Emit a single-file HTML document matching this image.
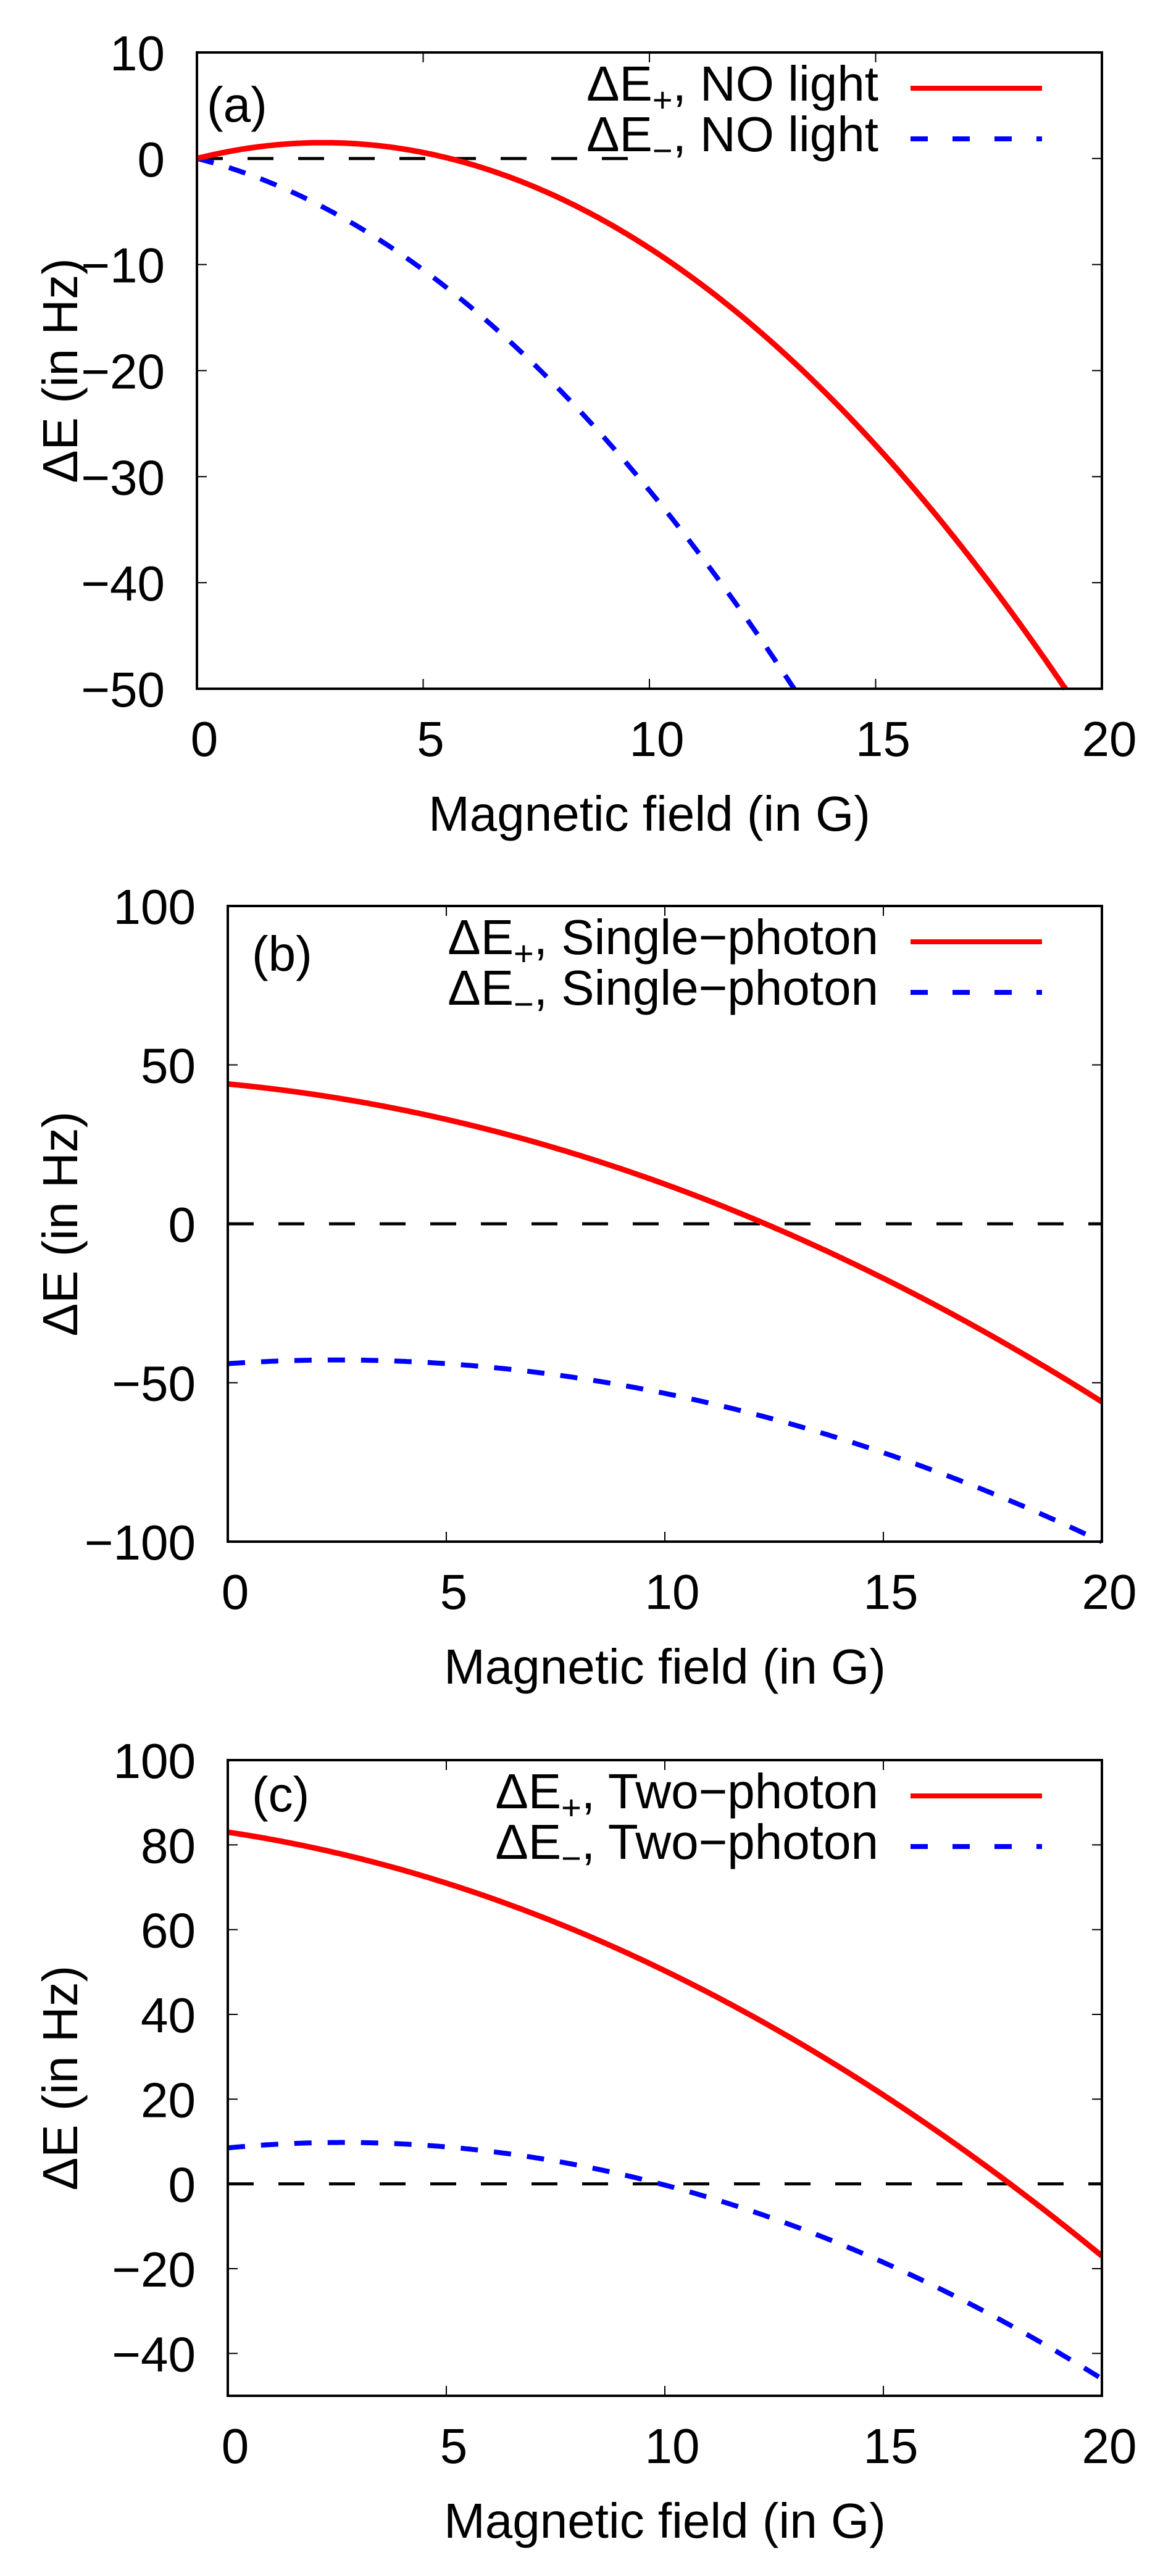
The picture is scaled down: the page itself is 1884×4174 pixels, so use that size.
<!DOCTYPE html>
<html><head><meta charset="utf-8"><style>
html,body{margin:0;padding:0;background:#fff;}
svg{display:block;}
text{font-family:"Liberation Sans",Arial,sans-serif;fill:#000;}
</style></head><body>
<svg id="s" xmlns="http://www.w3.org/2000/svg" width="1884" height="4174" viewBox="0 0 1884 4174"></svg>
<script>
var NS="http://www.w3.org/2000/svg",S=document.getElementById('s');
function el(t,a,txt){var e=document.createElementNS(NS,t);for(var k in a)e.setAttribute(k,a[k]);if(txt!==undefined)e.textContent=txt;S.appendChild(e);return e;}
function txt(x,y,s,anchor,size){return el('text',{x:x,y:y,'text-anchor':anchor||'middle','font-size':size||80},s);}
var panels=[
 {L:319,R:1785,T:85,B:1116,ymin:-50,ymax:10,ystep:10,lab:'(a)',labx:335,laby:197,zeroEnd:9.6,leg:'NO light',
  red:function(x){return 1.07*x-0.1915*x*x;},blue:function(x){return -1.07*x-0.206*x*x;}},
 {L:369,R:1785,T:1468,B:2498,ymin:-100,ymax:100,ystep:50,lab:'(b)',labx:408,laby:1573,zeroEnd:20,leg:'Single\u2212photon',
  red:function(x){return 44-1.304*x-0.1848*x*x;},blue:function(x){return -44+0.933*x-0.1867*x*x;}},
 {L:369,R:1785,T:2852,B:3882,ymin:-50,ymax:100,ystep:20,ystart:-40,lab:'(c)',labx:408,laby:2935,zeroEnd:20,leg:'Two\u2212photon',
  red:function(x){return 83-1.54*x-0.173*x*x;},blue:function(x){return 8.5+0.971*x-0.1848*x*x;}}
];
panels.forEach(function(p){
 var sx=function(x){return p.L+(p.R-p.L)*x/20;};
 var sy=function(y){return p.B-(p.B-p.T)*(y-p.ymin)/(p.ymax-p.ymin);};
 // ticks
 for(var xv=0;xv<=20;xv+=5){var X=sx(xv);
  el('line',{x1:X,y1:p.B,x2:X,y2:p.B-16,stroke:'#000','stroke-width':2});
  el('line',{x1:X,y1:p.T,x2:X,y2:p.T+16,stroke:'#000','stroke-width':2});
  txt(X+12,p.B+109,String(xv),'middle',80);}
 var ys=p.ystart!==undefined?p.ystart:p.ymin;
 var yl=[];for(var v=ys;v<=p.ymax+1e-9;v+=p.ystep)yl.push(v);
 if(p.ystart!==undefined)yl.push(p.ymax);
 for(var v=ys;v<=p.ymax+1e-9;v+=p.ystep){var Y=sy(v);
  el('line',{x1:p.L,y1:Y,x2:p.L+16,y2:Y,stroke:'#000','stroke-width':2});
  el('line',{x1:p.R,y1:Y,x2:p.R-16,y2:Y,stroke:'#000','stroke-width':2});
  txt(p.L-52,Y+29,(v<0?'\u2212':'')+Math.abs(v),'end',80);}
 if(p.ystart!==undefined){txt(p.L-52,sy(p.ymax)+29,String(p.ymax),'end',80);}
 // zero line
 el('line',{x1:sx(0),y1:sy(0),x2:sx(p.zeroEnd),y2:sy(0),stroke:'#000','stroke-width':5,'stroke-dasharray':'42 40'});
 // curves
 function path(f){var d='',first=true;for(var i=0;i<=400;i++){var x=20*i/400,y=f(x);if(y<p.ymin){if(!first){var xs=x;d+=' L'+sx(x).toFixed(1)+' '+sy(p.ymin).toFixed(1);}break;}
  d+=(first?'M':' L')+sx(x).toFixed(1)+' '+sy(y).toFixed(1);first=false;}return d;}
 var cp='c'+p.lab.charAt(1);
 var cl=el('clipPath',{id:cp});var r=document.createElementNS(NS,'rect');r.setAttribute('x',p.L);r.setAttribute('y',p.T);r.setAttribute('width',p.R-p.L);r.setAttribute('height',p.B-p.T+6);cl.appendChild(r);
 el('path',{d:path(p.blue),fill:'none',stroke:'#0000ff','stroke-width':8,'stroke-dasharray':'28 26','clip-path':'url(#'+cp+')'});
 el('path',{d:path(p.red),fill:'none',stroke:'#ff0000','stroke-width':9,'clip-path':'url(#'+cp+')'});
 // frame
 el('rect',{x:p.L,y:p.T,width:p.R-p.L,height:p.B-p.T,fill:'none',stroke:'#000','stroke-width':4});
 // label
 txt(p.labx,p.laby,p.lab,'start',80);
 // legend
 var y1=p.T+58,y2=p.T+140;
 [[y1,'+','#ff0000',null],[y2,'\u2212','#0000ff','28 40']].forEach(function(r){
  var t=el('text',{x:1423,y:r[0]+20,'text-anchor':'end','font-size':80});
  t.appendChild(document.createTextNode('\u0394E'));
  var sub=document.createElementNS(NS,'tspan');sub.setAttribute('font-size','56');sub.setAttribute('dy','18');sub.textContent=r[1];t.appendChild(sub);
  var rest=document.createElementNS(NS,'tspan');rest.setAttribute('dy','-18');rest.textContent=', '+p.leg;t.appendChild(rest);
  var a={x1:1475,y1:r[0],x2:1688,y2:r[0],stroke:r[2],'stroke-width':8};if(r[3])a['stroke-dasharray']=r[3];el('line',a);
 });
 // axis titles
 txt((p.L+p.R)/2,p.B+230,'Magnetic field (in G)','middle',80);
 var cy=(p.T+p.B)/2;
 el('text',{x:0,y:0,'text-anchor':'middle','font-size':80,transform:'translate(125,'+cy+') rotate(-90)'},'\u0394E (in Hz)');
});
</script>
</body></html>
